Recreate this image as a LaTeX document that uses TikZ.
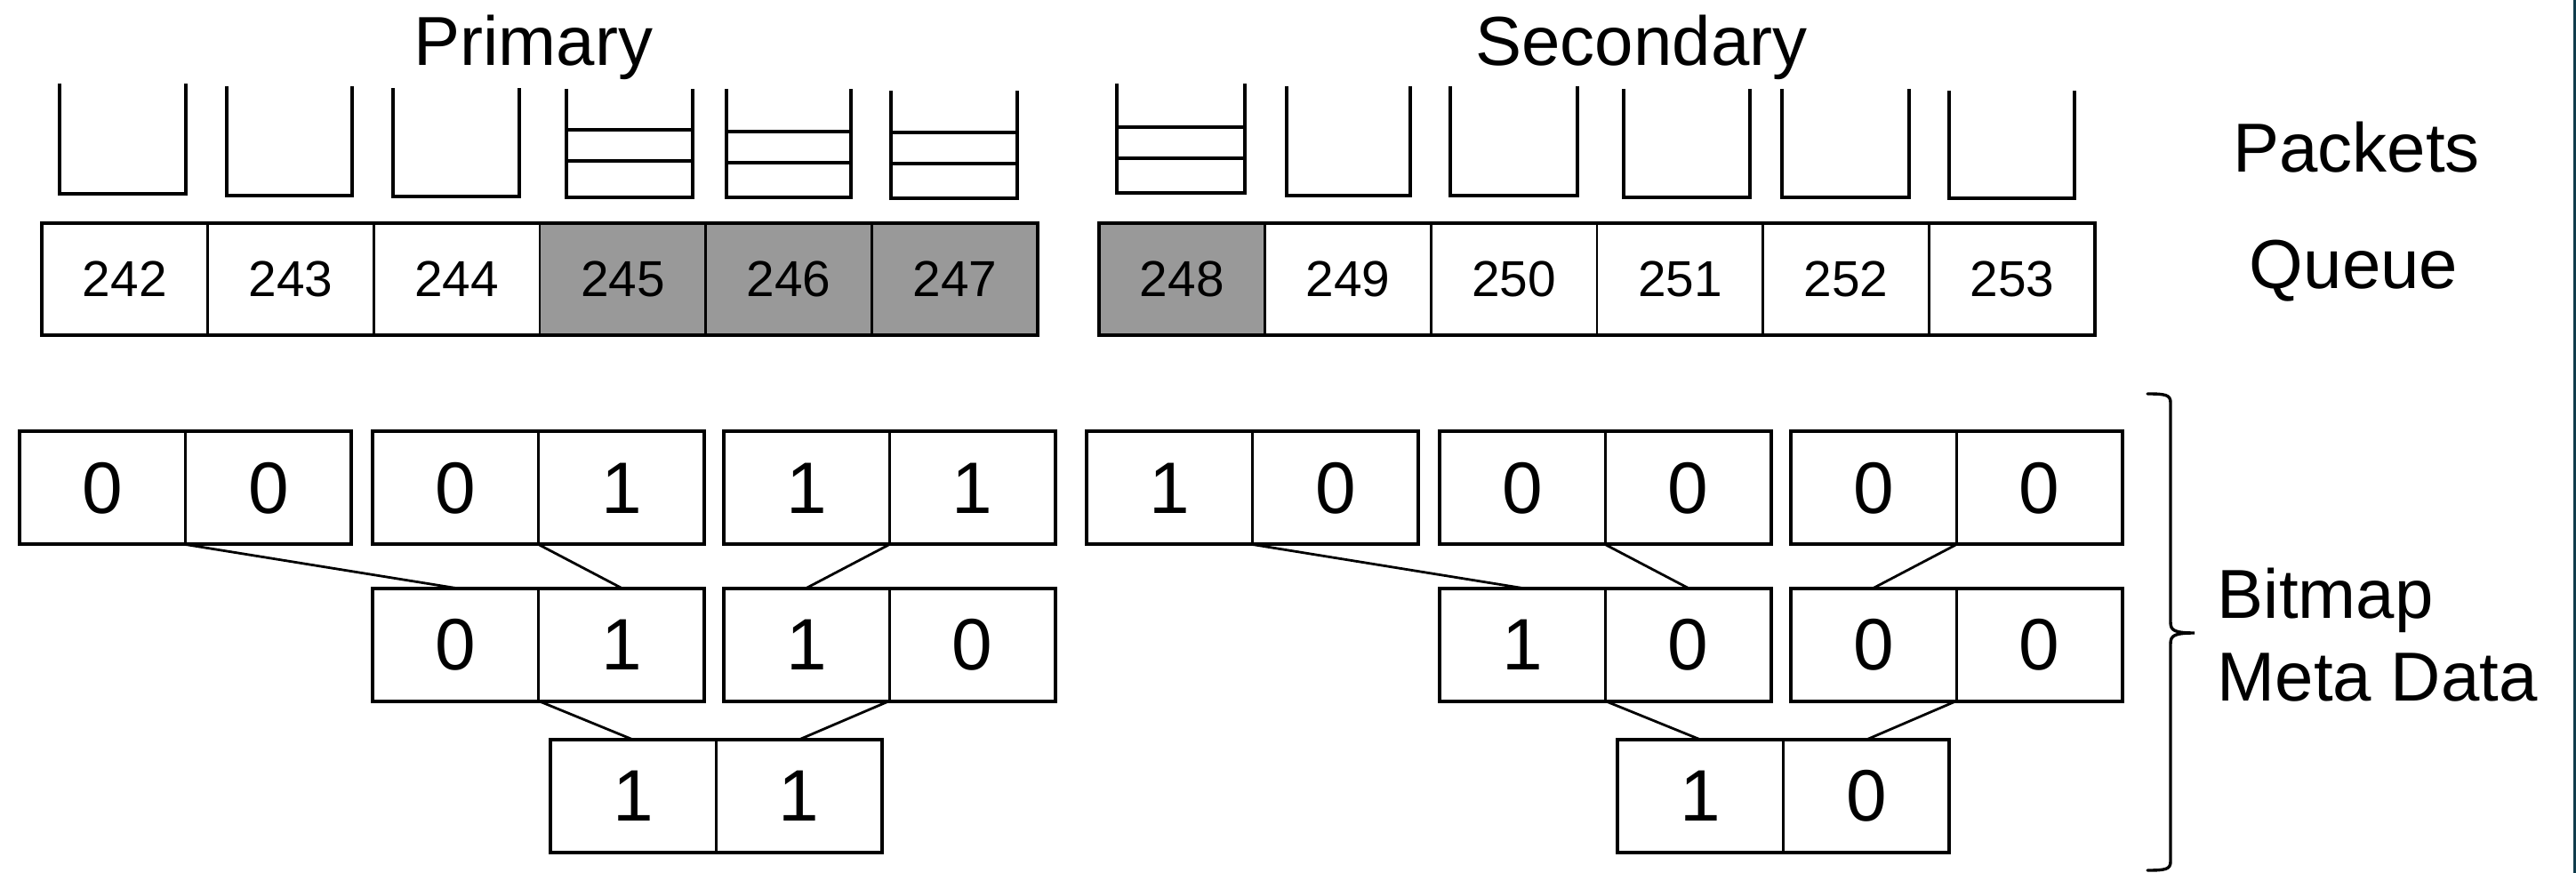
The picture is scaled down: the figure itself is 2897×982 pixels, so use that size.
\documentclass[tikz,border=0pt]{standalone}
\usepackage{fontspec}
\setmainfont{Liberation Sans}
\definecolor{cellgray}{RGB}{153,153,153}
\definecolor{edgeteal}{RGB}{16,60,76}
\newcommand\bkt[4]{\draw[bucket] (#1,#3) -- (#1,#4) -- (#2,#4) -- (#2,#3);}
\newcommand\pk[3]{\draw[pkt] (#1,#3) -- (#2,#3);}
\begin{document}
\begin{tikzpicture}[x=0.25pt,y=-0.25pt,
  qcell/.style={draw,line width=0.7pt,minimum width=46.675pt,minimum height=31.5pt,inner sep=0pt,outer sep=0pt,font=\fontsize{14.2}{17}\selectfont},
  qfull/.style={qcell,fill=cellgray},
  bcell/.style={draw,line width=0.7pt,minimum width=46.675pt,minimum height=31.75pt,inner sep=0pt,outer sep=0pt,font=\fontsize{20.5}{24}\selectfont},
  frame/.style={draw,line width=1pt},
  link/.style={draw,line width=0.7pt},
  bucket/.style={draw,line width=0.8pt},
  pkt/.style={draw,line width=0.9pt},
  label/.style={inner sep=0pt,font=\fontsize{19.5}{23}\selectfont},
  bracestyle/.style={draw,line width=0.85pt,line cap=round}
]
\useasboundingbox (0,0) rectangle (2897,982);
\fill[white] (0,0) rectangle (2897,982);
\fill[edgeteal] (2894,0) rectangle (2897,982);

% titles
\node[label,anchor=base] (tprim) at (600,74) {Primary};
\node[label,anchor=base] (tsec) at (1846,74) {Secondary};
\node[label,anchor=base] (tpack) at (2650,194) {Packets};
\node[label,anchor=base] (tqueue) at (2647,325) {Queue};
\node[label,anchor=base west] (tbit) at (2493,695) {Bitmap};
\node[label,anchor=base west] (tmeta) at (2493,788) {Meta Data};

% primary packets
\bkt{67}{209}{94}{218}
\bkt{255}{396}{97}{220}
\bkt{442}{584}{99}{221}
\bkt{637}{779}{100}{222}
\pk{637}{779}{146}\pk{637}{779}{181}
\bkt{817}{957}{100}{222}
\pk{817}{957}{148}\pk{817}{957}{183}
\bkt{1002}{1144}{102}{223}
\pk{1002}{1144}{149}\pk{1002}{1144}{184}
% secondary packets
\bkt{1256}{1400}{94}{217}
\pk{1256}{1400}{143}\pk{1256}{1400}{178}
\bkt{1447}{1586}{97}{220}
\bkt{1631}{1774}{97}{220}
\bkt{1826}{1968}{100}{222}
\bkt{2004}{2147}{100}{222}
\bkt{2192}{2333}{102}{223}

% primary queue
\node[qcell] (q242) at (140.3,314) {242};
\node[qcell] (q243) at (327.0,314) {243};
\node[qcell] (q244) at (513.7,314) {244};
\node[qfull] (q245) at (700.4,314) {245};
\node[qfull] (q246) at (887.1,314) {246};
\node[qfull] (q247) at (1073.8,314) {247};
\draw[frame] (q242.north west) rectangle (q247.south east);
% secondary queue
\node[qfull] (q248) at (1329.3,314) {248};
\node[qcell] (q249) at (1516.0,314) {249};
\node[qcell] (q250) at (1702.7,314) {250};
\node[qcell] (q251) at (1889.4,314) {251};
\node[qcell] (q252) at (2076.1,314) {252};
\node[qcell] (q253) at (2262.8,314) {253};
\draw[frame] (q248.north west) rectangle (q253.south east);

% primary bitmap
\node[bcell] (pA1) at (115.35,549) {0};
\node[bcell] (pA2) at (302.05,549) {0};
\node[bcell] (pB1) at (512.35,549) {0};
\node[bcell] (pB2) at (699.05,549) {1};
\node[bcell] (pC1) at (906.85,549) {1};
\node[bcell] (pC2) at (1093.55,549) {1};
\node[bcell] (pD1) at (512.35,725) {0};
\node[bcell] (pD2) at (699.05,725) {1};
\node[bcell] (pE1) at (906.85,725) {1};
\node[bcell] (pE2) at (1093.55,725) {0};
\node[bcell] (pF1) at (711.85,895.5) {1};
\node[bcell] (pF2) at (898.55,895.5) {1};
\foreach \p in {A,B,C,D,E,F}{\draw[frame] (p\p1.north west) rectangle (p\p2.south east);}
\draw[link] (pA1.south east) -- (pD1.north);
\draw[link] (pB1.south east) -- (pD2.north);
\draw[link] (pC1.south east) -- (pE1.north);
\draw[link] (pD1.south east) -- (pF1.north);
\draw[link] (pE1.south east) -- (pF2.north);

% secondary bitmap
\node[bcell] (sA1) at (1315.35,549) {1};
\node[bcell] (sA2) at (1502.05,549) {0};
\node[bcell] (sB1) at (1711.85,549) {0};
\node[bcell] (sB2) at (1898.55,549) {0};
\node[bcell] (sC1) at (2106.85,549) {0};
\node[bcell] (sC2) at (2293.55,549) {0};
\node[bcell] (sD1) at (1711.85,725) {1};
\node[bcell] (sD2) at (1898.55,725) {0};
\node[bcell] (sE1) at (2106.85,725) {0};
\node[bcell] (sE2) at (2293.55,725) {0};
\node[bcell] (sF1) at (1912.35,895.5) {1};
\node[bcell] (sF2) at (2099.05,895.5) {0};
\foreach \p in {A,B,C,D,E,F}{\draw[frame] (s\p1.north west) rectangle (s\p2.south east);}
\draw[link] (sA1.south east) -- (sD1.north);
\draw[link] (sB1.south east) -- (sD2.north);
\draw[link] (sC1.south east) -- (sE1.north);
\draw[link] (sD1.south east) -- (sF1.north);
\draw[link] (sE1.south east) -- (sF2.north);

% brace
\coordinate (brtop) at (2415,443);
\coordinate (brtip) at (2468,712);
\coordinate (brbot) at (2415,979);
\draw[bracestyle] (brtop) .. controls (2435,443) and (2441,444) .. (2441,453)
  -- (2441,700) .. controls (2441,709) and (2445,712) .. (brtip)
  .. controls (2445,712) and (2441,715) .. (2441,724)
  -- (2441,969) .. controls (2441,978) and (2435,979) .. (brbot);
\end{tikzpicture}
\end{document}
